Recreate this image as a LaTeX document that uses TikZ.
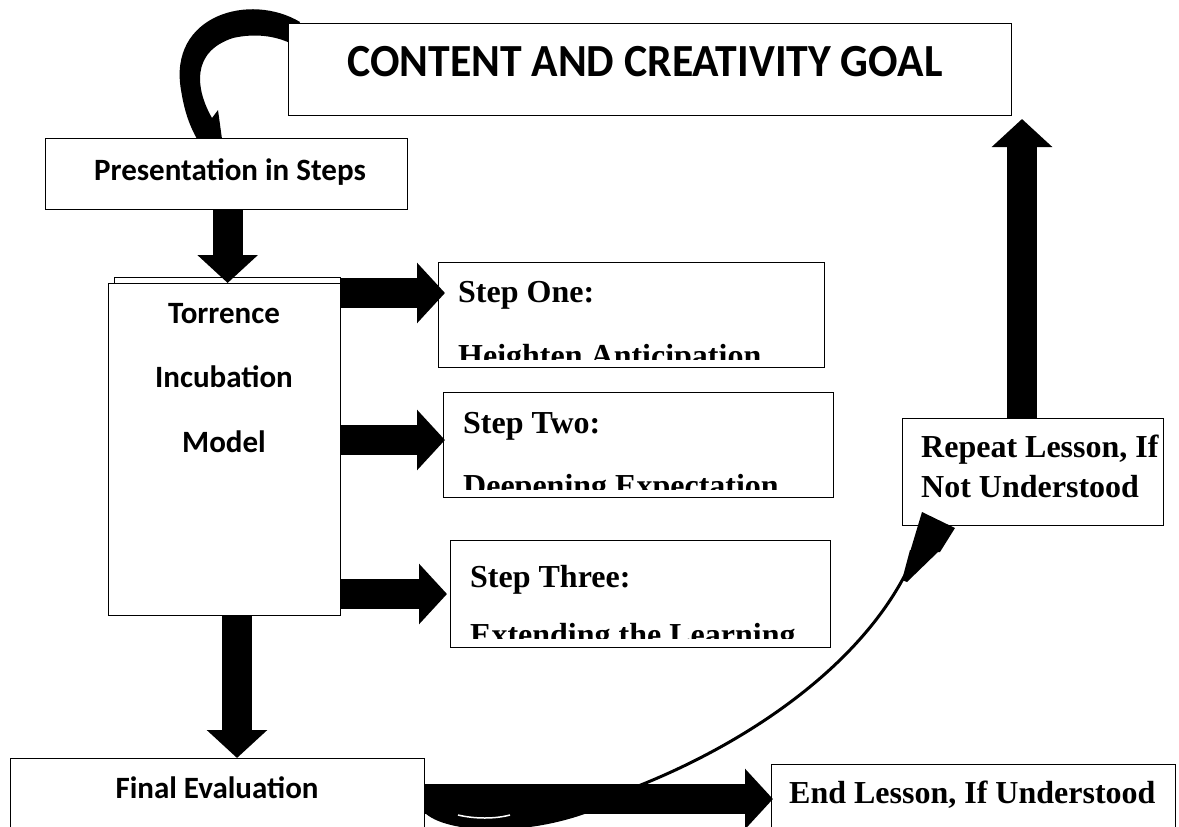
\documentclass[tikz,border=0pt]{standalone}
\usepackage{fontspec}
\setmainfont{Liberation Serif}
\newfontfamily\calib{Carlito}
\usetikzlibrary{arrows.meta,calc}
\begin{document}
\begin{tikzpicture}[x=1pt,y=-1pt,
  box/.style={draw=black,fill=white,line width=1.3pt,inner sep=0pt,anchor=north west},
  sansl/.style={font=\calib\bfseries\fontsize{31}{37}\selectfont,inner sep=0pt,anchor=base},
  seril/.style={font=\bfseries\fontsize{32}{38}\selectfont,inner sep=0pt,anchor=base west},
  blk/.style={line width=30pt,-{Triangle[length=28pt,width=59pt]}},
]
\useasboundingbox (0,0) rectangle (1179,827);
\fill[white] (0,0) rectangle (1179,827);

% curved arrow: goal -> presentation
\fill (300,22) .. controls (250,-8) and (168,15) .. (181,90)
  .. controls (185,115) and (191,128) .. (197,139) -- (222,139) -- (218,110) -- (212,118)
  .. controls (196,90) and (190,52) .. (233,38) .. controls (255,33) and (275,36) .. (290,43) -- cycle;

% boxes
\node[box,minimum width=723pt,minimum height=92pt] (goal) at (288,23) {};
\node[box,minimum width=362pt,minimum height=71pt] (pres) at (45,138) {};
\node[box,minimum width=226pt,minimum height=300pt] (torrback) at (114,277) {};
\node[box,minimum width=232pt,minimum height=332pt] (torr) at (108,283) {};
\node[box,minimum width=386pt,minimum height=105pt] (s1) at (438,262) {};
\node[box,minimum width=390pt,minimum height=105pt] (s2) at (443,392) {};
\node[box,minimum width=380pt,minimum height=107pt] (s3) at (450,540) {};
\node[box,minimum width=261pt,minimum height=107pt] (rep) at (902,418) {};
\node[box,minimum width=414pt,minimum height=100pt] (final) at (10,758) {};
\node[box,minimum width=404pt,minimum height=100pt] (endl) at (771,764) {};

% texts
\node[sansl,font=\calib\bfseries\fontsize{46}{54}\selectfont] (goalt) at (645,76) {\scalebox{0.95}[1]{CONTENT AND CREATIVITY GOAL}};
\node[sansl] (prest) at (230,180) {Presentation in Steps};
\node[sansl] (torr1) at (224,323) {Torrence};
\node[sansl] (torr2) at (224,387) {Incubation};
\node[sansl] (torr3) at (224,452) {Model};
\node[sansl] (finalt) at (217,798) {Final Evaluation};
\begin{scope}
\clip (438,262) rectangle (824,359);
\node[seril] (s1a) at (458,302) {Step One:};
\node[seril] (s1b) at (458,366) {Heighten Anticipation};
\end{scope}
\begin{scope}
\clip (443,392) rectangle (833,489);
\node[seril] (s2a) at (463,433) {Step Two:};
\node[seril] (s2b) at (463,496) {Deepening Expectation};
\end{scope}
\begin{scope}
\clip (450,540) rectangle (830,638);
\node[seril] (s3a) at (470,587) {Step Three:};
\node[seril] (s3b) at (470,645) {Extending the Learning};
\end{scope}
\node[seril] (rep1) at (921,457) {Repeat Lesson, If};
\node[seril] (rep2) at (921,497) {Not Understood};
\node[seril] (endt) at (789,803) {End Lesson, If Understood};

% curved arrow: final -> repeat
\fill (424,800) -- (424,812) .. controls (445,834) and (530,838) .. (600,808) -- (600,800) -- cycle;
\draw[white,line width=1.5pt] (458,815) .. controls (475,819) and (495,819) .. (510,815);
\draw[line width=3pt] (600,800) .. controls (720,760) and (850,680) .. (905,575);
\fill (902,580) -- (910,550) -- (940,550) -- (907,582) -- cycle;
\fill (922,512) -- (955,528) -- (940,552) -- (910,552) -- cycle;

% straight block arrows
\draw[blk] ([xshift=1pt]pres.south) -- ([xshift=1pt]pres.south |- torr.north);
\draw[blk] (torr.east |- 0,293) -- (445,293);
\draw[blk] (torr.east |- 0,440) -- (445,440);
\draw[blk] (torr.east |- 0,594) -- (447,594);
\draw[blk] (237,615) -- (237,758);
\draw[blk] (final.east |- 0,799) -- (773,799);
\draw[blk] (rep.north -| 1022,0) -- (1022,119);
\end{tikzpicture}
\end{document}
